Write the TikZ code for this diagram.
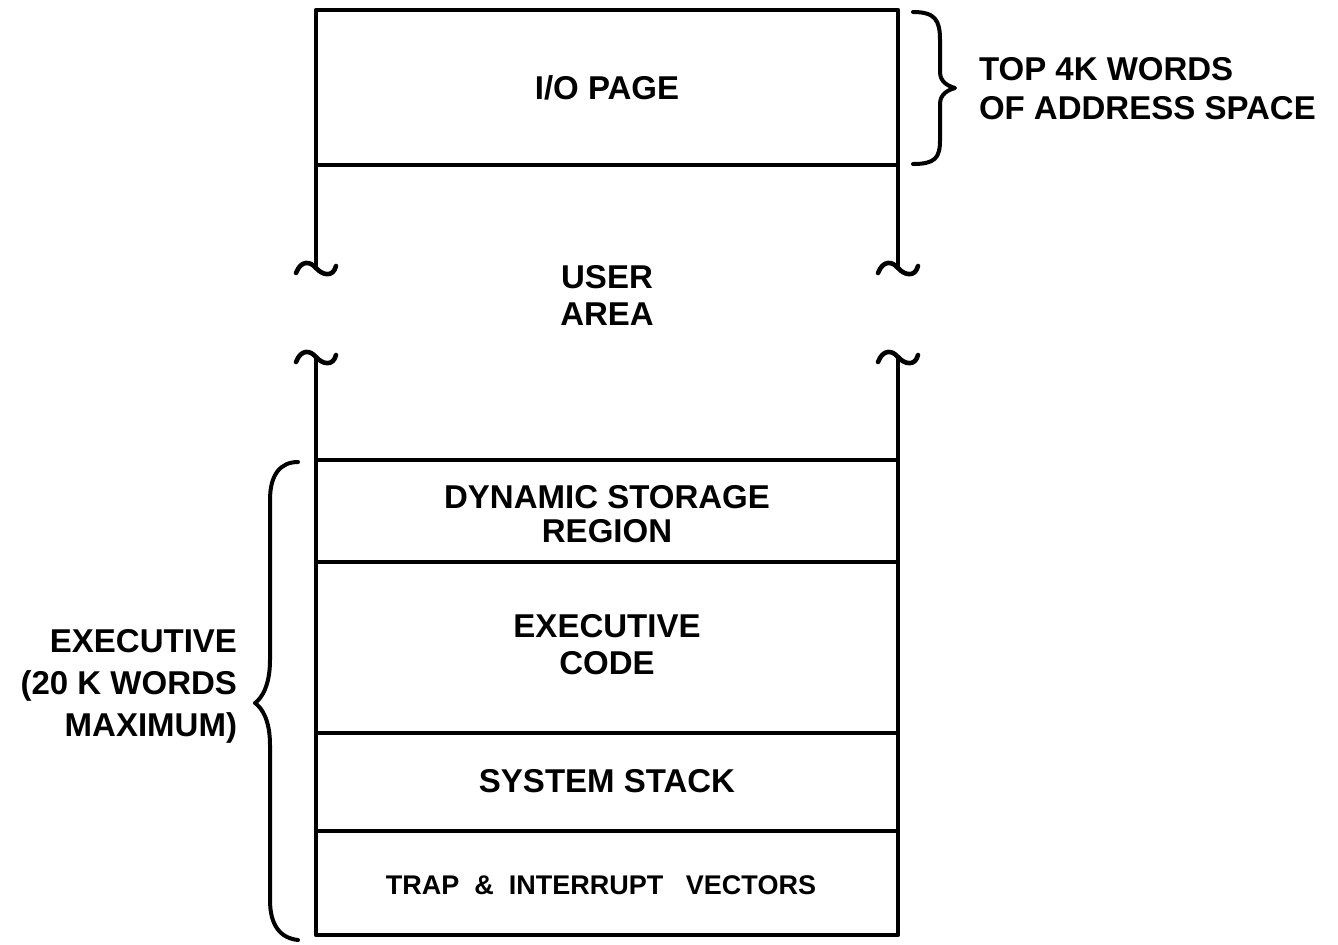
\documentclass[tikz,border=0pt]{standalone}
\usepackage{fontspec}
\setmainfont{Liberation Sans}
\begin{document}
\begin{tikzpicture}[x=0.5pt,y=-0.5pt,
  line width=2pt, line cap=round, line join=round,
  lbl/.style={font=\bfseries\fontsize{16.5}{18.5}\selectfont, align=center, inner sep=0pt},
  box/.style={draw, minimum width=291pt, inner sep=0pt, outer sep=0pt, line width=2.3pt},
  tild/.style={line width=2.3pt}]
\useasboundingbox (0,0) rectangle (1338,944);
% boxes
\node[box, minimum height=77.5pt] (io) at (607,87.5) {};
\node[lbl] (iotxt) at (607,88) {I/O PAGE};
\node[box, minimum height=51pt] (dyn) at (607,511) {};
\node[lbl, font=\bfseries\fontsize{16.5}{17}\selectfont] (dyntxt) at (607,514) {DYNAMIC STORAGE\\REGION};
\node[box, minimum height=85.5pt] (exe) at (607,647.5) {};
\node[lbl] (exetxt) at (607,645) {EXECUTIVE\\CODE};
\node[box, minimum height=49pt] (stk) at (607,782) {};
\node[lbl] (stktxt) at (607,781) {SYSTEM STACK};
\node[box, minimum height=52pt] (trp) at (607,883) {};
\node[font=\bfseries\fontsize{13.5}{16}\selectfont, inner sep=0pt] (trptxt) at (601,885) {TRAP \ \& \ INTERRUPT \ \ VECTORS};
% user area
\node[lbl] (user) at (607,295) {USER\\AREA};
\coordinate (ul1) at (316,268);
\coordinate (ur1) at (898,268);
\coordinate (ul2) at (316,357);
\coordinate (ur2) at (898,357);
\draw[tild] (io.south west) -- (ul1);
\draw[tild] (io.south east) -- (ur1);
\draw[tild] (ul2) -- (dyn.north west);
\draw[tild] (ur2) -- (dyn.north east);
\foreach \p in {ul1,ur1,ul2,ur2}{
  \draw[tild] ([shift={(-20,5)}]\p) .. controls ([shift={(-15,-8)}]\p) and ([shift={(-6,-7)}]\p) .. (\p)
     .. controls ([shift={(6,7)}]\p) and ([shift={(17,10)}]\p) .. ([shift={(20,-2)}]\p);
}
% right brace
\draw (913,12) .. controls (935,12) and (940,20) .. (940,40) -- (940,72)
  .. controls (940,82) and (948,86) .. (955,88)
  .. controls (948,90) and (940,94) .. (940,104) -- (940,140)
  .. controls (940,158) and (935,164) .. (913,164);
\node[lbl, anchor=west, align=left, font=\bfseries\fontsize{16.5}{19.5}\selectfont] (top) at (977,89) {TOP 4K WORDS\\OF ADDRESS SPACE};
% left brace
\draw (298,462) .. controls (280,462) and (270,475) .. (270,500) -- (270,660)
  .. controls (270,685) and (262,698) .. (255,703)
  .. controls (262,708) and (270,720) .. (270,745) -- (270,900)
  .. controls (270,925) and (280,938) .. (298,940);
\node[lbl, anchor=east, align=right, font=\bfseries\fontsize{16.5}{21}\selectfont] (exec) at (239,686) {EXECUTIVE\\(20 K WORDS\\MAXIMUM)};
\end{tikzpicture}
\end{document}
